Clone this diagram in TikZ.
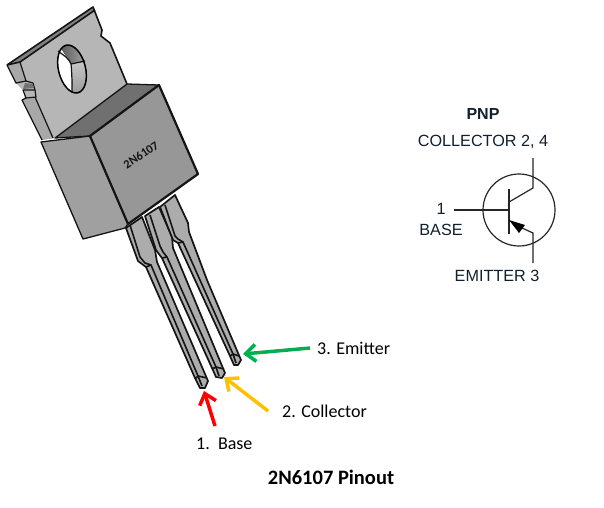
\documentclass[tikz,border=0pt]{standalone}
\usepackage{fontspec}
\setmainfont{Carlito}
\newfontfamily\schem{Liberation Sans}
\usetikzlibrary{arrows.meta}
\definecolor{tabgray}{HTML}{B6B6B6}
\definecolor{stripgray}{HTML}{A8A8A8}
\definecolor{facegray}{HTML}{979797}
\definecolor{topgray}{HTML}{707070}
\definecolor{leftgray}{HTML}{A0A0A0}
\definecolor{leadgray}{HTML}{ACACAC}
\definecolor{inkgray}{HTML}{141414}
\definecolor{lblblue}{HTML}{10202E}
\definecolor{myred}{HTML}{FF0000}
\definecolor{myyellow}{HTML}{FFC000}
\definecolor{mygreen}{HTML}{00B050}
\tikzset{
  part/.style={draw=inkgray,line width=1.2pt,line join=round},
  leadpart/.style={part,fill=leadgray,line width=1.7pt},
  leadline/.style={draw=inkgray,line width=1.6pt,line join=round},
  pointer/.style={line width=3.5pt,-{Straight Barb[length=10pt,width=17pt,line width=3.5pt]}},
  lbl/.style={font=\fontsize{18}{21}\selectfont,text=black,inner sep=0pt},
  sch/.style={font=\schem\fontsize{16.2}{19}\selectfont,text=lblblue,inner sep=0pt},
  symline/.style={draw=black!85,line width=1.2pt}
}
\begin{document}
\begin{tikzpicture}[x=1pt,y=-1pt]
\useasboundingbox (0,0) rectangle (604,507);
\fill[white] (0,0) rectangle (604,507);
% tab
\fill[tabgray] (7,65) -- (93,7) -- (102,30) -- (101,36) -- (110,43) -- (127,84) -- (55,138) -- (42,140) -- (22,100) -- (25,98) -- (23,90) -- (16,83) -- cycle;
\fill[stripgray] (7,65) -- (20,62) -- (26,81) -- (16,83) -- cycle;
\fill[stripgray] (22,100) -- (35,97) -- (53,138) -- (42,140) -- cycle;
\fill[black!50] (7,65) -- (93,7) -- (95,10) -- (20,62) -- cycle;
\draw[part,line width=1.6pt] (7,65) -- (93,7) -- (102,30) -- (101,36) -- (110,43) -- (127,84);
\draw[part] (7,65) -- (16,83) -- (26,81) -- (33,83) -- (35,90) -- (23,90);
\draw[part] (23,90) -- (26,98) -- (22,100) -- (42,140);
\draw[part] (26,98) -- (36,97) -- (35,90);
\draw[part] (20,62) -- (26,81);
\draw[part] (35,97) -- (53,138);
\draw[part,line width=1.6pt] (7,65) -- (20,62) -- (95,10);
\fill[black!55] (25,83) -- (33,84) -- (34,88) -- (23,89) -- cycle;
% hole
\fill[white] [rotate around={14:(72,69)}] (72,69) ellipse (13.5pt and 24.5pt);
\begin{scope}
\path[clip,rotate around={14:(72,69)}] (72,69) ellipse (13.5pt and 24.5pt);
\fill[left color=black!70,right color=black!30] (56,40) -- (90,40) -- (90,61) -- (71,64) -- cycle;
\fill[top color=black!22,bottom color=black!40] (71,64) -- (90,61) -- (90,95) -- (73,95) .. controls (72,85) and (73,75) .. (71,64) -- cycle;
\end{scope}
\draw[inkgray,line width=1.2pt] (71,64) -- (85,61);
\draw[inkgray,line width=1.2pt] (58,51) .. controls (63,55) and (69,58) .. (71,64) .. controls (72,73) and (72,83) .. (72,92);
\draw[black,line width=1.5pt,rotate around={14:(72,69)}] (72,69) ellipse (13.5pt and 24.5pt);
% lead 1
\draw[leadpart] (126,228) -- (138,261) -- (146,267) -- (195,378) -- (200,388) -- (205,388) -- (208,381) -- (157,262) -- (155,250) -- (142,217) -- cycle;
\draw[leadline] (130,225) -- (140,257) -- (145,263) -- (151,265) -- (198,376) -- (207,378);
\draw[leadline] (195,379) -- (198,376) -- (202,386);
\draw[leadline] (146,267) -- (151,265);
% lead 2
\draw[leadpart] (145,216) -- (156,250) -- (162,258) -- (212,368) -- (216,377) -- (222,378) -- (225,373) -- (173,248) -- (172,237) -- (159,207) -- cycle;
\draw[leadline] (150,215) -- (160,246) -- (163,252) -- (167,257) -- (216,367) -- (224,369);
\draw[leadline] (212,369) -- (216,367) -- (219,376);
\draw[leadline] (162,258) -- (167,257);
% lead 3
\draw[leadpart] (160,207) -- (173,240) -- (178,243) -- (230,356) -- (234,365) -- (238,365) -- (241,360) -- (207,280) -- (189,232) -- (188,223) -- (175,195) -- cycle;
\draw[leadline] (165,205) -- (175,236) -- (178,239) -- (183,242) -- (233,354) -- (239,356);
\draw[leadline] (230,356) -- (233,354) -- (236,363);
\draw[leadline] (178,243) -- (183,242);
% body
\draw[part,fill=topgray,line width=1.3pt] (55,138) -- (127,84) -- (159,85) -- (90,136) -- cycle;
\draw[part,fill=leftgray,line width=1.3pt] (41,142) -- (90,136) -- (128,224) -- (125,228) -- (83,239) -- cycle;
\draw[part,fill=facegray,line width=2.2pt] (90,136) -- (159,85) -- (198,174) -- (128,224) -- cycle;
\node[font=\bfseries\fontsize{12.2}{14}\selectfont,text=inkgray,rotate=33,inner sep=0pt] (part) at (141,155) {2N6107};
% pointers and labels
\node[lbl,anchor=west] (emit) at (317,348) {3. Emitter};
\node[lbl,anchor=west] (coll) at (282,411) {2. Collector};
\node[lbl,anchor=west] (base) at (196,444) {1.\ \ Base};
\node[font=\bfseries\fontsize{20.5}{24}\selectfont,inner sep=0pt] (title) at (331,477) {2N6107 Pinout};
\coordinate (etail) at (310,348);
\coordinate (ehead) at (243,354);
\coordinate (ctail) at (268,411);
\coordinate (chead) at (224,377);
\coordinate (btail) at (215,426);
\coordinate (bhead) at (204,391);
\draw[pointer,mygreen] (etail) -- (ehead);
\draw[pointer,myyellow] (ctail) -- (chead);
\draw[pointer,myred] (btail) -- (bhead);
% schematic
\node[sch,font=\schem\bfseries\fontsize{16}{19}\selectfont] (pnp) at (483,114) {PNP};
\node[sch] (colllbl) at (483,142) {COLLECTOR 2, 4};
\node[sch] (onelbl) at (441,209) {1};
\node[sch] (baselbl) at (441,230) {BASE};
\node[sch] (emlbl) at (497,276) {EMITTER 3};
\node[draw=black!85,line width=1.2pt,circle,minimum size=72pt,inner sep=0pt] (ring) at (519,210) {};
\coordinate (barT) at (509,189);
\coordinate (barB) at (509,234);
\coordinate (bstart) at (454,210);
\coordinate (bend) at (509,210);
\draw[symline] (barT) -- (barB);
\draw[symline] (bstart) -- (bend);
\draw[symline] (533,158) -- (533,188) -- (509,202);
\draw[symline] (533,263) -- (533,233) -- (522,228);
\fill[black] (509,220) -- (525,225) -- (519,233) -- cycle;
\end{tikzpicture}
\end{document}
